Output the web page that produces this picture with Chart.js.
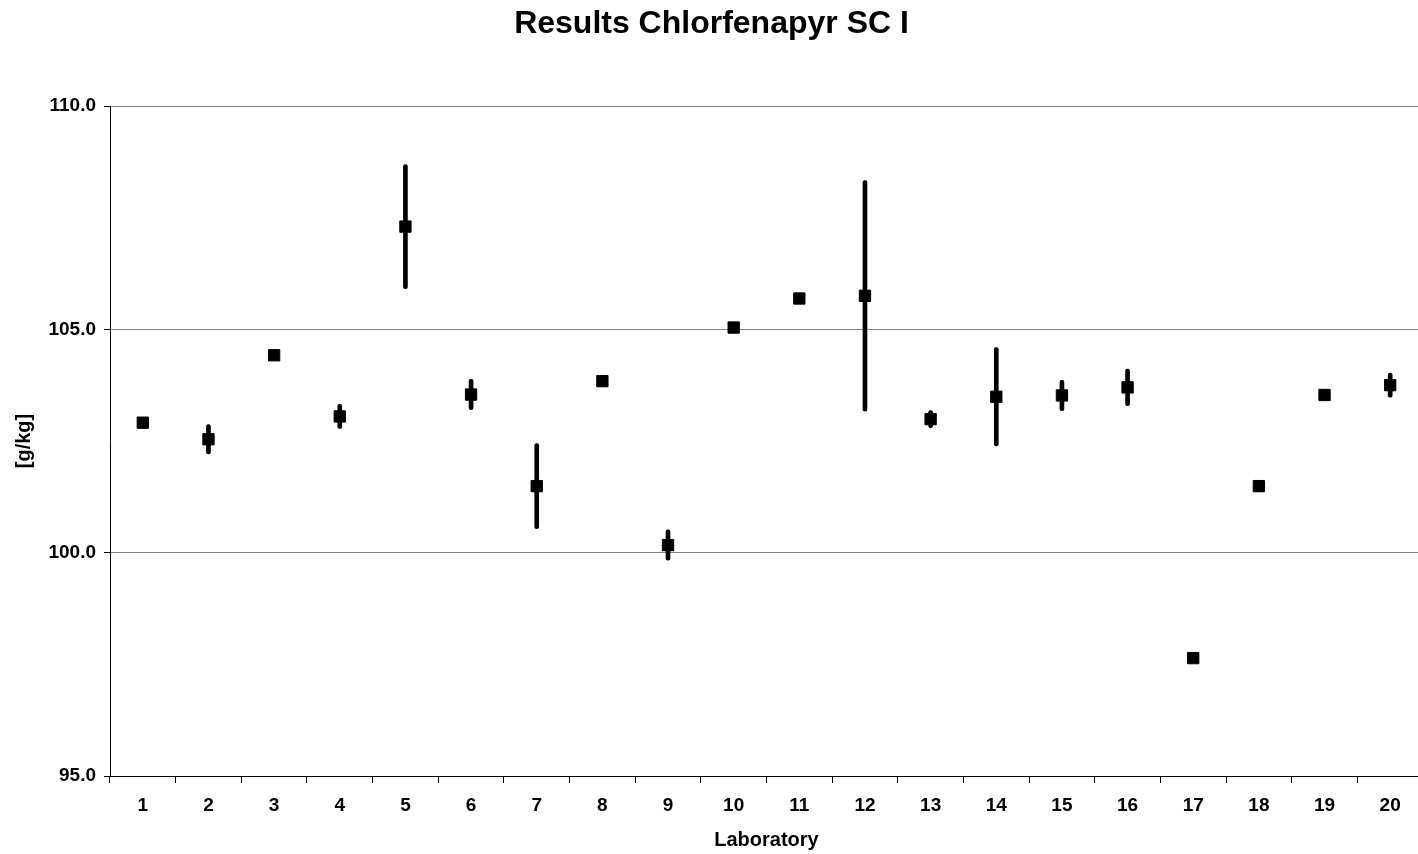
<!DOCTYPE html>
<html>
<head>
<meta charset="utf-8">
<title>Results Chlorfenapyr SC I</title>
<script src="https://cdn.jsdelivr.net/npm/chart.js@4.4.1/dist/chart.umd.min.js"></script>
<style>
  html, body { margin: 0; padding: 0; background: #fff; overflow: hidden; }
  /* the original plot runs a few px past the right edge of the picture */
  #wrap { width: 1423px; height: 854px; position: relative; }
</style>
</head>
<body>
<div id="wrap"><canvas id="resultsChart"></canvas></div>
<script>
// ---- DATA ----
const labs = ['1', '2', '3', '4', '5', '6', '7', '8', '9', '10',
              '11', '12', '13', '14', '15', '16', '17', '18', '19', '20'];
// mean results per laboratory [g/kg]
const means = [102.91, 102.54, 104.42, 103.05, 107.30, 103.54, 101.49, 103.84, 100.17, 105.04,
               105.69, 105.75, 102.99, 103.49, 103.52, 103.70, 97.64, 101.49, 103.53, 103.75];
// half width of the error bar (0 = none drawn)
const errors = [0, 0.33, 0, 0.27, 1.39, 0.34, 0.95, 0, 0.34, 0,
                0, 2.58, 0.19, 1.10, 0.34, 0.41, 0, 0, 0.05, 0.27];
const yTicks = [95, 100, 105, 110];

// error bars as floating bars [low, high]
const errorRanges = means.map((m, i) => errors[i] > 0 ? [m - errors[i], m + errors[i]] : null);

Chart.defaults.color = '#000';
Chart.defaults.font.family = '"Liberation Sans", Arial, sans-serif';
Chart.defaults.font.weight = 'bold';

new Chart(document.getElementById('resultsChart'), {
  type: 'bar',
  data: {
    labels: labs,
    datasets: [
      {
        label: 'Mean',
        type: 'line',
        data: means,
        showLine: false,
        pointStyle: 'rect',
        pointRadius: 8,
        pointBorderWidth: 1,
        pointBackgroundColor: '#000',
        pointBorderColor: '#000',
        order: 0
      },
      {
        label: 'Error',
        data: errorRanges,
        backgroundColor: '#000',
        barThickness: 4,
        borderRadius: 2,
        borderSkipped: false,
        order: 1
      }
    ]
  },
  options: {
    responsive: true,
    maintainAspectRatio: false,
    animation: false,
    layout: { autoPadding: false, padding: 0 },
    plugins: {
      legend: { display: false },
      tooltip: { enabled: false },
      title: {
        display: true,
        text: 'Results Chlorfenapyr SC I',
        font: { size: 32, weight: 'bold' },
        padding: { top: 5, bottom: 62.6 }
      }
    },
    scales: {
      x: {
        offset: true,
        afterFit: s => { s.height = 78; },
        grid: {
          offset: true,
          drawOnChartArea: false,
          tickLength: 7,
          tickColor: '#000'
        },
        border: { color: '#000', width: 1 },
        ticks: { font: { size: 19 }, padding: 11, maxRotation: 0 },
        title: {
          display: true,
          text: 'Laboratory',
          font: { size: 20, weight: 'bold' },
          padding: { top: 0, bottom: 2 }
        }
      },
      y: {
        min: yTicks[0],
        max: yTicks[yTicks.length - 1],
        afterFit: s => { s.width = 110; },
        afterBuildTicks: s => { s.ticks = yTicks.map(v => ({ value: v })); },
        grid: {
          color: '#808080',
          tickLength: 6,
          tickColor: '#000'
        },
        border: { color: '#000', width: 1 },
        ticks: {
          font: { size: 19 },
          padding: 8,
          callback: val => Number(val).toFixed(1)
        },
        title: {
          display: true,
          text: '[g/kg]',
          font: { size: 20, weight: 'bold' },
          padding: { top: 12, bottom: 0 }
        }
      }
    }
  }
});
</script>
</body>
</html>
